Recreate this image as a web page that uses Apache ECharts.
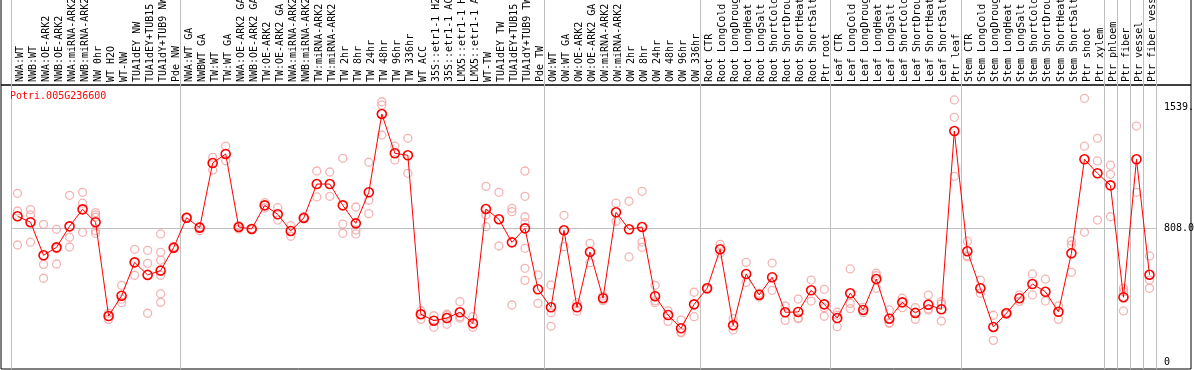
<!DOCTYPE html>
<html>
<head>
<meta charset="utf-8">
<script src="https://cdn.jsdelivr.net/npm/echarts@6/dist/echarts.min.js"></script>
<style>
html,body{margin:0;padding:0;background:#fff;}
#chart{width:1194px;height:370px;}
</style>
</head>
<body>
<div id="chart"></div>
<script>
const geneId = 'Potri.005G236600';

const categories = [
  'NWA:WT','NWB:WT','NWA:OE-ARK2','NWB:OE-ARK2','NWA:miRNA-ARK2','NWB:miRNA-ARK2','NW 0hr','WT H2O','WT-NW',
  'TUA1dEY NW','TUA1dEY+TUB15','TUA1dY+TUB9 NW','Pde NW',
  'NWA:WT GA','NWBWT GA','TW:WT','TW:WT GA','NWA:OE-ARK2 GA','NWB:OE-ARK2 GA','TW:OE-ARK2','TW:OE-ARK2 GA',
  'NWA:miRNA-ARK2','NWB:miRNA-ARK2','TW:miRNA-ARK2','TW:miRNA-ARK2','TW 2hr','TW 8hr','TW 24hr','TW 48hr','TW 96hr',
  'TW 336hr','WT ACC','35S::etr1-1 H2','35S::etr1-1 AC','LMX5::etr1-1 H','LMX5::etr1-1 A','WT-TW','TUA1dEY TW',
  'TUA1dEY+TUB15','TUA1dY+TUB9 TW','Pde TW',
  'OW:WT','OW:WT GA','OW:OE-ARK2','OW:OE-ARK2 GA','OW:miRNA-ARK2','OW:miRNA-ARK2','OW 2hr','OW 8hr','OW 24hr',
  'OW 48hr','OW 96hr','OW 336hr',
  'Root CTR','Root LongCold','Root LongDroug','Root LongHeat','Root LongSalt','Root ShortCold','Root ShortDrou',
  'Root ShortHeat','Root ShortSalt','Ptr root',
  'Leaf CTR','Leaf LongCold','Leaf LongDroug','Leaf LongHeat','Leaf LongSalt','Leaf ShortCold','Leaf ShortDrou',
  'Leaf ShortHeat','Leaf ShortSalt','Ptr leaf',
  'Stem CTR','Stem LongCold','Stem LongDroug','Stem LongHeat','Stem LongSalt','Stem ShortCold','Stem ShortDrou',
  'Stem ShortHeat','Stem ShortSalt','Ptr shoot','Ptr xylem',
  'Ptr phloem','Ptr fiber','Ptr vessel','Ptr fiber vess'
];

const means = [
  882, 846, 646, 694, 821, 924, 846, 278, 401, 603, 527, 553, 692,
  873, 813, 1204, 1259, 817, 805, 948, 894, 793, 872, 1077, 1077, 948, 839, 1027, 1501, 1263,
  1251, 289, 250, 266, 301, 234, 926, 864, 724, 809, 440,
  331, 797, 331, 666, 386, 906, 803, 817, 398, 284, 204, 349,
  446, 682, 222, 533, 406, 513, 301, 303, 434, 349,
  266, 416, 315, 502, 262, 361, 297, 347, 319, 1398,
  670, 446, 212, 295, 386, 472, 425, 304, 658, 1227, 1142,
  1069, 392, 1227, 528
];

const replicates = [
  [1021, 914, 708], [922, 890, 725], [833, 591, 507], [803, 593, 686], [1009, 755, 696],
  [1027, 961, 785], [904, 890, 876, 795, 779], [295, 258], [464, 380, 359], [682, 525],
  [676, 597, 295], [775, 664, 616, 525, 412, 361], [688, 696],
  [870, 876], [819, 795], [1239, 1162], [1307, 1218], [825, 805], [802, 808], [964, 932],
  [934, 859], [825, 761], [868, 876], [1156, 999], [1150, 1003], [1233, 835, 779],
  [938, 799, 775], [1209, 979, 898], [1575, 1555, 1374], [1307, 1223], [1354, 1142],
  [310, 258], [280, 210], [289, 228, 281], [365, 274, 265], [274, 210], [1063, 890, 819],
  [1027, 702], [930, 910, 345], [1156, 1003, 879, 843, 688, 567, 494], [527, 355],
  [466, 298, 216], [888, 698], [359, 307], [718, 601], [399, 371], [961, 852], [973, 636],
  [1033, 726, 694], [464, 359, 370], [310, 246], [254, 177, 181], [422, 274],
  [440, 452], [712, 658], [262, 194], [603, 482], [416, 393], [599, 434], [339, 252],
  [381, 262, 266], [496, 369], [440, 329, 277],
  [301, 214, 283], [563, 355, 323], [331, 299], [537, 446, 523], [315, 234, 237],
  [386, 329], [329, 258], [405, 315, 321], [365, 351, 248], [1586, 1481, 1124],
  [731, 636, 643], [496, 416], [283, 131], [300, 290], [406, 367], [533, 406], [501, 369],
  [339, 258], [731, 708, 543], [1596, 1306, 785], [1354, 1217, 859],
  [1191, 1136, 879], [446, 426, 309], [1428, 1027], [642, 496, 446]
];

// category indices where a new group starts (vertical separators)
const groupBreaks = [0, 13, 41, 53, 63, 73, 84, 85, 86, 87];
const yTickValues = [0, 808, 1539];
const refLineValue = 808;

const repPoints = [];
replicates.forEach((arr, i) => arr.forEach(v => repPoints.push([i, v])));

const MONO = 'DejaVu Sans Mono';
const GREY = '#c0c0c0';
const breakFn = (idx) => groupBreaks.indexOf(idx) >= 0;

const chart = echarts.init(document.getElementById('chart'), null, {renderer: 'canvas'});
chart.setOption({
  animation: false,
  backgroundColor: '#ffffff',
  title: {
    text: geneId, left: 10, top: 91, padding: 0,
    textStyle: {color: '#ff0000', fontFamily: MONO, fontSize: 10, fontWeight: 'normal'}
  },
  grid: [
    {left: 1, right: 3, top: -2, height: 87, show: true, borderColor: '#000', borderWidth: 1, backgroundColor: 'transparent', outerBoundsMode: 'none', containLabel: false},
    {left: 1, right: 3, top: 85, bottom: 1, show: true, borderColor: '#000', borderWidth: 1, backgroundColor: 'transparent', outerBoundsMode: 'none', containLabel: false},
    {left: 11, width: 1145, top: -2, height: 87, outerBoundsMode: 'none', containLabel: false},
    {left: 11, width: 1145, top: 85, bottom: 1, outerBoundsMode: 'none', containLabel: false}
  ],
  xAxis: [
    {gridIndex: 0, type: 'category', data: categories, show: false},
    {gridIndex: 1, type: 'category', data: categories, show: false},
    {gridIndex: 2, type: 'category', data: categories, boundaryGap: true,
      axisLine: {show: false}, axisTick: {show: false}, axisLabel: {show: false},
      splitLine: {show: true, interval: breakFn, lineStyle: {color: GREY, width: 1}}},
    {gridIndex: 3, type: 'category', data: categories, position: 'top', boundaryGap: true,
      axisLine: {show: false}, axisTick: {show: false},
      axisLabel: {show: true, interval: 0, rotate: 90, margin: 3, lineHeight: 5,
        color: '#000', fontFamily: MONO, fontSize: 10, verticalAlign: 'top'},
      splitLine: {show: true, interval: breakFn, lineStyle: {color: GREY, width: 1}}}
  ],
  yAxis: [
    {gridIndex: 0, type: 'value', show: false},
    {gridIndex: 1, type: 'value', show: false},
    {gridIndex: 2, type: 'value', show: false},
    {gridIndex: 3, type: 'value', position: 'right', min: -42.4, max: 1676.5,
      axisLine: {show: false}, axisTick: {show: false}, splitLine: {show: false},
      axisLabel: {show: true, customValues: yTickValues, margin: 8, color: '#000', fontFamily: MONO, fontSize: 10,
        formatter: v => (v === 0 ? '0' : Number(v).toFixed(1))}}
  ],
  series: [
    {
      type: 'scatter', xAxisIndex: 3, yAxisIndex: 3, data: repPoints, z: 2,
      symbol: 'circle', symbolSize: 8,
      itemStyle: {color: 'rgba(0,0,0,0)', borderColor: '#f0a0a0', borderWidth: 1.3},
      silent: true
    },
    {
      type: 'line', xAxisIndex: 3, yAxisIndex: 3, data: means, z: 3,
      showAllSymbol: true, symbol: 'circle', symbolSize: 9,
      lineStyle: {color: '#ff0000', width: 1},
      itemStyle: {color: 'rgba(0,0,0,0)', borderColor: '#ff0000', borderWidth: 1.6},
      markLine: {
        silent: true, symbol: 'none', z: 1,
        label: {show: false},
        lineStyle: {color: GREY, width: 1, type: 'solid'},
        data: [{yAxis: refLineValue}]
      }
    }
  ]
});
</script>
</body>
</html>
